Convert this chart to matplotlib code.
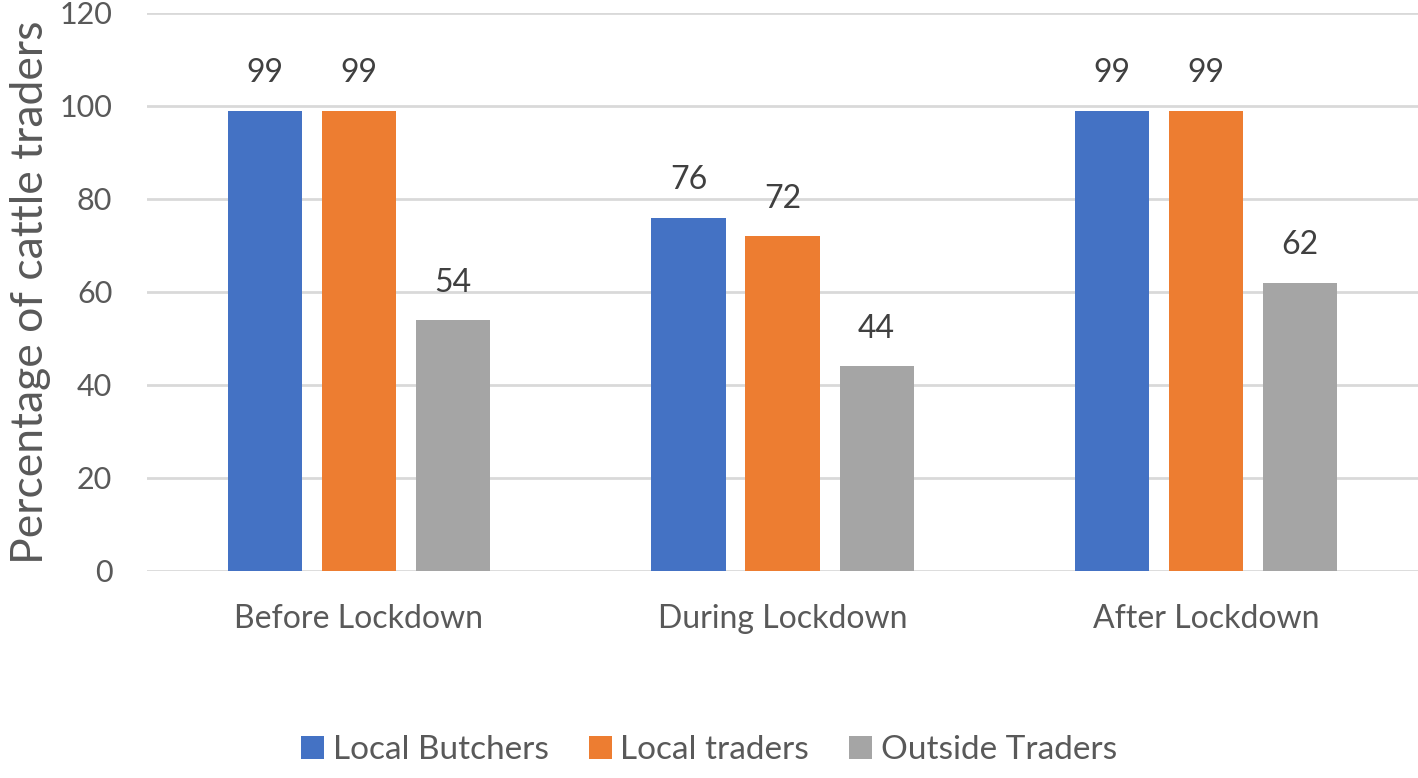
import numpy as np
import matplotlib.pyplot as plt

categories = ['Before Lockdown', 'During Lockdown', 'After Lockdown']
series_names = ['Local Butchers', 'Local traders', 'Outside Traders']
local_butchers = [99, 76, 99]
local_traders = [99, 72, 99]
outside_traders = [54, 44, 62]
yticks = [0, 20, 40, 60, 80, 100, 120]

colors = ['#4472C4', '#ED7D31', '#A5A5A5']
text_color = '#595959'

plt.rcParams['font.family'] = ['Lato', 'DejaVu Sans']

fig = plt.figure(figsize=(14.18, 7.78), dpi=100)
ax = fig.add_axes([0.1037, 0.2661, 0.8963, 0.7172])

x = np.arange(len(categories))
width = 0.175
offset = 0.222
handles = []
for i, (name, vals) in enumerate(zip(series_names, [local_butchers, local_traders, outside_traders])):
    bars = ax.bar(x + (i - 1) * offset, vals, width, color=colors[i], label=name, zorder=3)
    handles.append(bars)
    for b, v in zip(bars, vals):
        ax.annotate(str(v), (b.get_x() + b.get_width() / 2, v), xytext=(0, 16),
                    textcoords='offset points', ha='center', va='bottom',
                    fontsize=23, color='#404040')

ax.set_xlim(-0.5, 2.5)
ax.set_ylim(0, 120)
ax.set_yticks(yticks)
ax.set_xticks(x)
ax.set_xticklabels(categories, fontsize=23)
ax.grid(axis='y', color='#D9D9D9', linewidth=2, zorder=0)
for s in ax.spines.values():
    s.set_visible(False)
ax.tick_params(axis='both', length=0, colors=text_color)
ax.tick_params(axis='y', pad=25, labelsize=22)
ax.tick_params(axis='x', pad=24)
ax.set_ylabel('Percentage of cattle traders', fontsize=32, color=text_color, labelpad=6)

fig.legend(handles=handles, loc='lower center', ncol=3, frameon=False,
           bbox_to_anchor=(0.5, -0.022), fontsize=24, labelcolor=text_color,
           handlelength=0.7, handleheight=0.7, handletextpad=0.25, columnspacing=1.2)

fig.savefig('out.png', dpi=100)
